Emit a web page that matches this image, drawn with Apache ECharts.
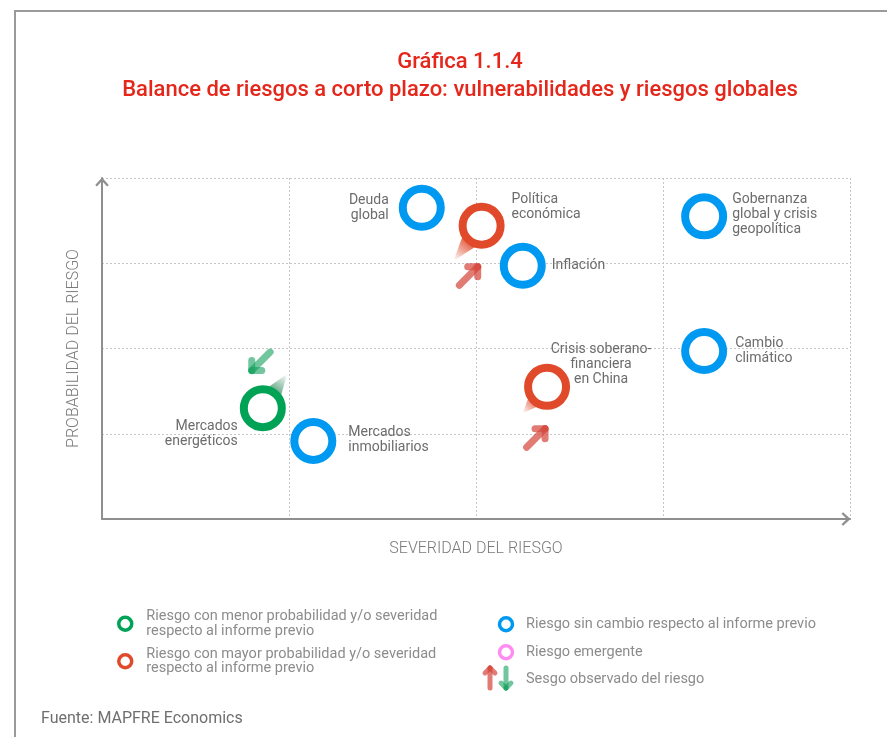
<!DOCTYPE html>
<html>
<head>
<meta charset="utf-8">
<script src="https://cdn.jsdelivr.net/npm/echarts@6/dist/echarts.min.js"></script>
<style>
  html, body { margin: 0; padding: 0; background: #fff; }
  #chart { width: 887px; height: 737px; }
</style>
</head>
<body>
<div id="chart"></div>
<script>
// risk map data (severity on x, probability on y)
const riskNames = [
  'Deuda global', 'Política económica', 'Inflación',
  'Gobernanza global y crisis geopolítica', 'Cambio climático',
  'Crisis soberano-financiera en China', 'Mercados energéticos', 'Mercados inmobiliarios'
]
const riskLabels = [
  'Deuda\nglobal', 'Política\neconómica', 'Inflación',
  'Gobernanza\nglobal y crisis\ngeopolítica', 'Cambio\nclimático',
  'Crisis soberano-\nfinanciera\nen China', 'Mercados\nenergéticos', 'Mercados\ninmobiliarios'
]
const riskSeverity = [1.71, 2.03, 2.25, 3.22, 3.22, 2.38, 0.86, 1.13]
const riskProbability = [3.65, 3.44, 2.97, 3.55, 1.97, 1.55, 1.30, 0.915]
const riskChange = ['sin', 'mayor', 'sin', 'sin', 'sin', 'mayor', 'menor', 'sin']

// fading trails from the previous position
const trailRisk = ['Política económica', 'Crisis soberano-financiera en China', 'Mercados energéticos']
const trailTipX = [1.88, 2.25, 0.99]
const trailTipY = [3.03, 1.24, 1.70]

// observed bias arrows
const sesgoX = [1.96, 2.32, 0.85]
const sesgoY = [2.85, 0.95, 1.85]
const sesgoDir = ['sube', 'sube', 'baja']

const legendNames = {
  menor: 'Riesgo con menor probabilidad y/o severidad\nrespecto al informe previo',
  mayor: 'Riesgo con mayor probabilidad y/o severidad\nrespecto al informe previo',
  sin: 'Riesgo sin cambio respecto al informe previo',
  emergente: 'Riesgo emergente',
  sesgo: 'Sesgo observado del riesgo'
}

const colors = {
  menor: '#00a255',
  mayor: '#e04a2b',
  sin: '#0099f2',
  emergente: '#ff8cf0'
}
const arrowColors = {
  sube: 'rgba(214, 74, 64, 0.72)',
  baja: 'rgba(18, 160, 92, 0.6)'
}
const trailColors = {
  mayor: [224, 74, 43],
  menor: [70, 150, 110]
}

const labelLayout = {
  'Deuda global': { position: 'left', distance: 10 },
  'Política económica': { position: 'right', distance: 7, offset: [0, -19] },
  'Inflación': { position: 'right', distance: 6 },
  'Gobernanza global y crisis geopolítica': { position: 'right', distance: 5, offset: [0, -2] },
  'Cambio climático': { position: 'right', distance: 8 },
  'Crisis soberano-financiera en China': { position: 'inside', offset: [54, -22], align: 'center' },
  'Mercados energéticos': { position: 'left', distance: 2, offset: [0, 26], align: 'right' },
  'Mercados inmobiliarios': { position: 'right', distance: 12, offset: [0, -1] }
}

const FONT = 'Roboto, "Noto Sans", sans-serif'

const ringSeries = (kind) => {
  const data = []
  riskNames.forEach((name, i) => {
    if (riskChange[i] !== kind) return
    data.push({
      name: name,
      value: [riskSeverity[i], riskProbability[i]],
      label: Object.assign({ formatter: riskLabels[i] }, labelLayout[name])
    })
  })
  return {
    name: legendNames[kind],
    type: 'scatter',
    z: 5,
    symbol: 'circle',
    symbolSize: 38,
    itemStyle: { color: '#fff', borderColor: colors[kind], borderWidth: 8, opacity: 1 },
    label: {
      show: true,
      color: '#6c6c6c',
      fontFamily: FONT,
      fontSize: 14,
      lineHeight: 15
    },
    emphasis: { disabled: true },
    data: data
  }
}

// arrow made of a shaft and two head arms, as separate strokes
const arrowParts = (cx, cy, ux, uy, half, head, lw, color) => {
  const tail = [cx - ux * half, cy - uy * half]
  const tip = [cx + ux * half, cy + uy * half]
  const c = Math.SQRT1_2
  const bx = -ux, by = -uy
  const a1 = [tip[0] + (bx * c - by * c) * head, tip[1] + (bx * c + by * c) * head]
  const a2 = [tip[0] + (bx * c + by * c) * head, tip[1] + (-bx * c + by * c) * head]
  const style = { stroke: color, lineWidth: lw, lineCap: 'round', fill: null }
  return [
    { type: 'polyline', shape: { points: [tail, tip] }, style: style },
    { type: 'polyline', shape: { points: [a1, tip] }, style: style },
    { type: 'polyline', shape: { points: [a2, tip] }, style: style }
  ]
}

const trailData = trailRisk.map((name, i) => {
  const k = riskNames.indexOf(name)
  return [riskSeverity[k], riskProbability[k], trailTipX[i], trailTipY[i], riskChange[k]]
})

const sesgoData = sesgoX.map((x, i) => [x, sesgoY[i], sesgoDir[i]])

const chevron = 'path://M6,0 L12,6.6 L10.6,8 L6,3.2 L1.4,8 L0,6.6 Z'

const axisCommon = {
  type: 'value',
  min: 0,
  max: 4,
  interval: 1,
  axisLabel: { show: false },
  axisTick: { show: false },
  axisLine: {
    show: true,
    onZero: false,
    lineStyle: { color: '#8f8f8f', width: 2 },
    symbol: ['none', chevron],
    symbolSize: [14, 9],
    symbolOffset: [0, -4]
  },
  splitLine: { show: true, lineStyle: { color: '#c6c6c6', type: [2, 2], width: 1 } },
  nameLocation: 'middle',
  nameTextStyle: { color: '#7a7a7a', fontFamily: FONT, fontSize: 16, fontWeight: 300 }
}

const legendText = { color: '#8c8c8c', fontFamily: FONT, fontSize: 14.5, lineHeight: 14.5 }

const chart = echarts.init(document.getElementById('chart'), null, { renderer: 'canvas' })

const option = {
  backgroundColor: '#fff',
  animation: false,
  title: [
    {
      text: 'Gráfica 1.1.4\nBalance de riesgos a corto plazo: vulnerabilidades y riesgos globales',
      left: 455,
      top: 43.5,
      textAlign: 'center',
      textStyle: {
        color: '#e5261a',
        fontFamily: FONT,
        fontSize: 22,
        fontWeight: 500,
        lineHeight: 28,
        align: 'center'
      }
    },
    {
      text: 'Fuente: MAPFRE Economics',
      left: 36,
      top: 706,
      textStyle: { color: '#6f6f6f', fontFamily: FONT, fontSize: 16, fontWeight: 'normal' }
    }
  ],
  grid: { left: 102, right: 37, top: 178, bottom: 218 },
  xAxis: Object.assign({}, axisCommon, { name: 'SEVERIDAD DEL RIESGO', nameGap: 22 }),
  yAxis: Object.assign({}, axisCommon, { name: 'PROBABILIDAD DEL RIESGO', nameGap: 20 }),
  legend: [
    {
      orient: 'vertical',
      left: 112,
      top: 604,
      itemWidth: 32,
      itemHeight: 13,
      itemGap: 8,
      selectedMode: false,
      textStyle: legendText,
      data: [
        { name: legendNames.menor, icon: 'circle', itemStyle: { borderWidth: 3.5 } },
        { name: legendNames.mayor, icon: 'circle', itemStyle: { borderWidth: 3.5 } }
      ]
    },
    {
      orient: 'vertical',
      left: 486,
      top: 611,
      itemWidth: 30,
      itemHeight: 13,
      itemGap: 11.5,
      selectedMode: false,
      textStyle: legendText,
      data: [
        { name: legendNames.sin, icon: 'circle', itemStyle: { borderWidth: 3.5 } },
        { name: legendNames.emergente, icon: 'circle', itemStyle: { borderWidth: 3.5 } },
        { name: legendNames.sesgo, icon: 'none' }
      ]
    }
  ],
  graphic: [
    {
      type: 'polyline',
      shape: { points: [[15, 737], [15, 11], [887, 11]] },
      style: { stroke: '#9a9a9a', lineWidth: 2, fill: null },
      silent: true
    },
    {
      type: 'group',
      silent: true,
      children: arrowParts(490, 678, 0, -1, 10, 7, 5, arrowColors.sube)
        .concat(arrowParts(506, 678, 0, 1, 10, 7, 5, arrowColors.baja))
    }
  ],
  series: [
    {
      type: 'custom',
      name: 'trails',
      z: 2,
      silent: true,
      renderItem: (params, api) => {
        const a = api.coord([api.value(0), api.value(1)])
        const b = api.coord([api.value(2), api.value(3)])
        const dx = b[0] - a[0], dy = b[1] - a[1]
        const len = Math.sqrt(dx * dx + dy * dy)
        const nx = -dy / len, ny = dx / len
        const w = 15
        const rgb = trailColors[api.value(4)].join(',')
        return {
          type: 'polygon',
          shape: { points: [[a[0] + nx * w, a[1] + ny * w], b, [a[0] - nx * w, a[1] - ny * w]] },
          style: {
            fill: new echarts.graphic.LinearGradient(a[0], a[1], b[0], b[1], [
              { offset: 0, color: 'rgba(' + rgb + ',0.95)' },
              { offset: 0.5, color: 'rgba(' + rgb + ',0.8)' },
              { offset: 1, color: 'rgba(' + rgb + ',0)' }
            ], true)
          }
        }
      },
      data: trailData
    },
    {
      type: 'custom',
      name: legendNames.sesgo,
      z: 6,
      silent: true,
      itemStyle: { color: arrowColors.sube },
      renderItem: (params, api) => {
        const c = api.coord([api.value(0), api.value(1)])
        const dir = api.value(2)
        const u = dir === 'sube' ? [Math.SQRT1_2, -Math.SQRT1_2] : [-Math.SQRT1_2, Math.SQRT1_2]
        return {
          type: 'group',
          children: arrowParts(c[0], c[1], u[0], u[1], 13, 10, 7, arrowColors[dir])
        }
      },
      data: sesgoData
    },
    ringSeries('menor'),
    ringSeries('mayor'),
    ringSeries('sin'),
    {
      name: legendNames.emergente,
      type: 'scatter',
      symbol: 'circle',
      symbolSize: 38,
      itemStyle: { color: '#fff', borderColor: colors.emergente, borderWidth: 8, opacity: 1 },
      data: []
    }
  ]
}

chart.setOption(option)
</script>
</body>
</html>
